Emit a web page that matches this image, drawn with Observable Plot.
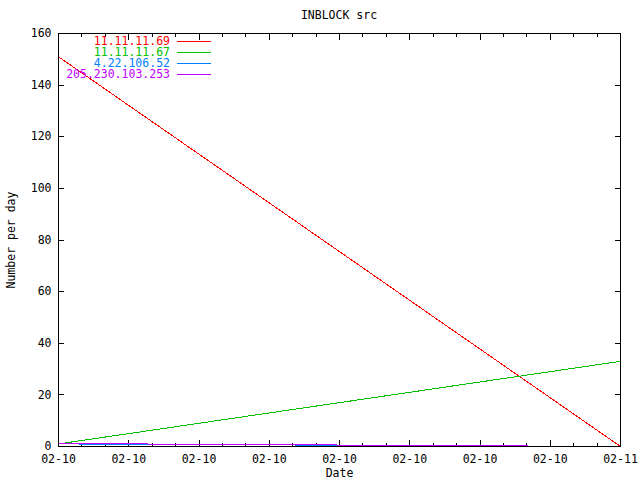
<!DOCTYPE html>
<html><head><meta charset="utf-8">
<script src="https://cdn.jsdelivr.net/npm/d3@7"></script>
<script src="https://cdn.jsdelivr.net/npm/@observablehq/plot@0.6"></script>
<style>
html,body{margin:0;padding:0;background:#fff;}
#wrap{position:relative;width:640px;height:480px;font-family:"DejaVu Sans Mono",monospace;}
#title{position:absolute;left:0;width:678px;top:8px;text-align:center;font-size:11.5px;line-height:14px;color:#000;}
#legend{position:absolute;left:58px;top:36px;width:153px;font-size:11.5px;line-height:11px;}
.row{position:relative;height:11px;line-height:11px;text-align:right;padding-right:41px;white-space:nowrap;}
.sw{position:absolute;right:0;top:5px;width:34px;height:1px;}
svg path, svg line{shape-rendering:crispEdges;}
</style>
</head><body>
<div id="wrap"><div id="title"></div><div id="legend"></div></div>
<script>
const titleText = "INBLOCK src";
const xLabel = "Date";
const yLabel = "Number per day";
const dates = ["2010-02-10T00:00:00Z", "2010-02-11T00:00:00Z"];
const seriesNames = ["11.11.11.69", "11.11.11.67", "4.22.106.52", "205.230.103.253"];
const seriesColors = ["#ff0000", "#00c000", "#0080ff", "#c000ff"];
const values69 = [151, 0];
const values67 = [1, 33];
const values4 = [1, 0];
const values205 = [1.15, 0];
const yTicks = [0, 20, 40, 60, 80, 100, 120, 140, 160];

const allValues = [values69, values67, values4, values205];
const rows = [];
seriesNames.forEach((name, s) => {
  dates.forEach((d, i) => rows.push({series: name, date: new Date(d), value: allValues[s][i]}));
});
const start = new Date(dates[0]), end = new Date(dates[1]);
const majorTicks = d3.utcHour.every(3).range(start, new Date(+end + 1));
const minorTicks = d3.utcHour.every(1).range(start, new Date(+end + 1));
const fmt = d3.utcFormat("%m-%d");
const font = {fontFamily: "DejaVu Sans Mono", fontSize: 11.5};

const chart = Plot.plot({
  width: 640, height: 480,
  marginLeft: 58, marginRight: 20, marginTop: 33, marginBottom: 34,
  style: {fontFamily: "DejaVu Sans Mono", fontSize: "11.5px", color: "#000", background: "#fff"},
  x: {type: "utc", domain: [start, end]},
  y: {domain: [0, 160]},
  color: {domain: seriesNames, range: seriesColors},
  marks: [
    Plot.axisX({anchor: "bottom", ticks: minorTicks, tickSize: -3, tickFormat: () => "", label: null}),
    Plot.axisX({anchor: "top", ticks: minorTicks, tickSize: -3, tickFormat: () => "", label: null}),
    Plot.axisX({anchor: "top", ticks: majorTicks, tickSize: -6, tickFormat: () => "", label: null}),
    Plot.axisX({anchor: "bottom", ticks: majorTicks, tickSize: -6, tickPadding: 14, tickFormat: fmt,
      label: xLabel, labelAnchor: "center", labelArrow: "none", labelOffset: 30, ...font}),
    Plot.axisY({anchor: "left", ticks: yTicks, tickSize: -6, tickPadding: 13, tickFormat: d => String(d),
      label: yLabel, labelAnchor: "center", labelArrow: "none", labelOffset: 52, ...font}),
    Plot.axisY({anchor: "right", ticks: yTicks, tickSize: -6, tickFormat: () => "", label: null}),
    Plot.line(rows, {x: "date", y: "value", z: "series", stroke: "series", strokeWidth: 1}),
    Plot.frame({stroke: "#000"})
  ]
});
const wrap = document.getElementById("wrap");
wrap.insertBefore(chart, wrap.firstChild);
document.getElementById("title").textContent = titleText;
const legend = document.getElementById("legend");
seriesNames.forEach((n, i) => {
  const r = document.createElement("div"); r.className = "row";
  const t = document.createElement("span"); t.textContent = n; t.style.color = seriesColors[i];
  const s = document.createElement("span"); s.className = "sw"; s.style.background = seriesColors[i];
  r.appendChild(t); r.appendChild(s); legend.appendChild(r);
});
</script>
</body></html>
